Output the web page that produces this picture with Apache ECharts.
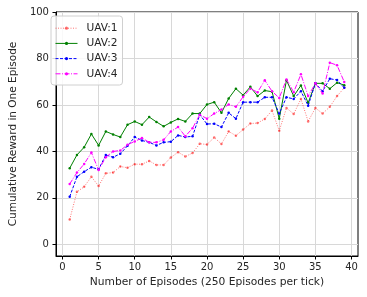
<!DOCTYPE html>
<html>
<head>
<meta charset="utf-8">
<script src="https://cdn.jsdelivr.net/npm/echarts@6/dist/echarts.min.js"></script>
<style>
html,body{margin:0;padding:0;background:#fff;}
#c{width:367px;height:297px;}
</style>
</head>
<body>
<div id="c"></div>
<script>
const episodes = [1,2,3,4,5,6,7,8,9,10,11,12,13,14,15,16,17,18,19,20,21,22,23,24,25,26,27,28,29,30,31,32,33,34,35,36,37,38,39];
const uav1 = [10.7,22.6,24.8,29.1,25.1,30.6,30.9,33.5,33.0,34.5,34.5,35.9,34.2,34.2,37.4,39.7,37.8,39.3,43.3,43.0,46.0,43.2,48.6,46.8,49.4,52.0,52.2,54.0,57.6,48.9,58.7,56.1,62.6,52.9,58.7,56.3,59.2,63.8,67.4];
const uav2 = [32.8,38.5,41.8,47.5,42.6,48.6,47.3,46.2,51.5,52.9,51.5,54.8,52.7,50.8,52.5,54.0,52.9,56.3,56.3,60.2,61.2,56.6,62.8,67.0,64.2,67.8,63.8,66.2,65.7,54.1,70.6,63.8,68.4,60.9,69.3,69.3,67.0,69.6,68.5];
const uav3 = [20.5,29.1,31.3,33.2,32.3,38.5,37.5,39.0,42.4,46.2,44.7,43.9,42.6,43.9,44.2,46.9,46.2,46.5,55.8,51.8,51.9,50.5,56.6,54.1,61.2,61.2,61.2,63.3,63.3,56.3,63.3,62.6,65.9,59.7,69.3,65.9,71.3,70.7,67.4];
const uav4 = [26.0,30.9,34.6,39.5,32.0,37.5,40.0,40.4,42.9,44.3,45.8,43.9,43.9,45.0,48.6,50.5,46.5,50.0,55.8,54.1,56.3,58.0,60.2,59.2,63.5,67.0,65.5,70.6,65.9,63.0,71.0,65.5,73.2,63.8,69.3,64.9,78.2,77.1,69.9];
const seriesNames = ['UAV:1','UAV:2','UAV:3','UAV:4'];
const xTicks = [0,5,10,15,20,25,30,35,40];
const yTicks = [0,20,40,60,80,100];

const colors = ['rgba(255,0,0,0.55)','#008000','#0000ff','#ff00ff'];
const lineTypes = [[1,1.5],'solid',[3,1.5],[5,1.5,1,1.5]];
const allData = [uav1,uav2,uav3,uav4];

const txt = '#262626';
const font = 'DejaVu Sans';

const chart = echarts.init(document.getElementById('c'), null, {renderer:'canvas'});
chart.setOption({
  animation: false,
  backgroundColor: '#fff',
  grid: {left: 51, right: 9, top: 12, bottom: 41, show: true, borderColor: '#000', borderWidth: 1, backgroundColor: 'transparent'},
  legend: {
    orient: 'vertical', left: 51, top: 16,
    data: seriesNames,
    itemWidth: 22, itemHeight: 4, itemGap: 2.8,
    padding: [6, 5, 5, 4],
    backgroundColor: 'rgba(255,255,255,0.85)',
    borderColor: '#d0d0d0', borderWidth: 1, borderRadius: 3,
    lineStyle: {width: 1},
    textStyle: {fontFamily: font, fontSize: 10.6, color: txt, padding: [0,0,0,4], lineHeight: 12.4}
  },
  xAxis: {
    type: 'value', min: -0.9, max: 40.9,
    name: 'Number of Episodes (250 Episodes per tick)',
    nameLocation: 'middle', nameGap: 21,
    nameTextStyle: {fontFamily: font, fontSize: 10.7, color: txt},
    axisLine: {show: true, onZero: false, lineStyle: {color: '#000', width: 1}},
    axisTick: {show: true, length: 3.5, lineStyle: {color: '#000'}, customValues: xTicks},
    axisLabel: {fontFamily: font, fontSize: 10, color: txt, margin: 6, customValues: xTicks},
    splitLine: {show: true, lineStyle: {color: '#d8d8d8', width: 1}}
  },
  yAxis: {
    type: 'value', min: -5, max: 100,
    name: 'Cumulative Reward in One Episode',
    nameLocation: 'middle', nameGap: 34,
    nameTextStyle: {fontFamily: font, fontSize: 10.5, color: txt},
    axisLine: {show: true, onZero: false, lineStyle: {color: '#000', width: 1}},
    axisTick: {show: true, length: 3.5, lineStyle: {color: '#000'}, customValues: yTicks},
    axisLabel: {fontFamily: font, fontSize: 10, color: txt, margin: 7, customValues: yTicks},
    splitLine: {show: true, lineStyle: {color: '#d8d8d8', width: 1}}
  },
  series: seriesNames.map((n, i) => ({
    name: n, type: 'line',
    data: episodes.map((e, j) => [e, allData[i][j]]),
    symbol: 'circle', symbolSize: 2.5,
    showSymbol: true,
    itemStyle: {color: colors[i]},
    lineStyle: {color: colors[i], width: 1, type: lineTypes[i]},
    z: 3 + i
  }))
});
</script>
</body>
</html>
